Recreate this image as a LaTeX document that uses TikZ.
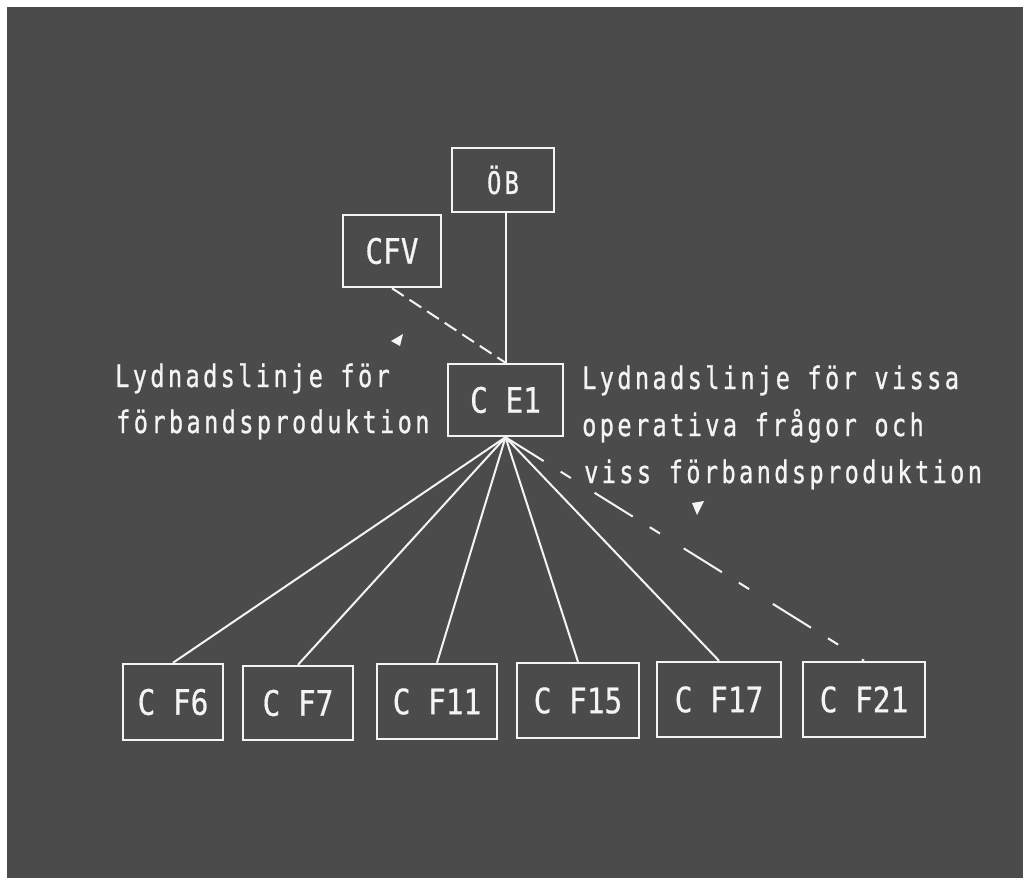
\documentclass[tikz,border=0pt]{standalone}
\usepackage{fontspec}
\newfontfamily\boxfont[FakeStretch=0.84,FakeBold=0.6]{DejaVu Sans Mono}
\newfontfamily\lblfont[FakeStretch=0.76,LetterSpace=11,FakeBold=0.8]{DejaVu Sans Mono}
\definecolor{bg}{HTML}{4B4B4B}
\definecolor{chalk}{HTML}{F4F4F4}
\begin{document}
\begin{tikzpicture}[x=1pt,y=-1pt,
  box/.style={draw=chalk, line width=2.5pt, inner sep=0pt, text=chalk,
    font=\boxfont\fontsize{35}{40}\selectfont},
  smallbox/.style={box, font=\lblfont\fontsize{31}{34}\selectfont},
  lbl/.style={text=chalk, inner sep=0pt, anchor=base west,
    font=\lblfont\fontsize{31}{34}\selectfont},
  link/.style={draw=chalk, line width=2pt},
  dlink/.style={link, dash pattern=on 14pt off 7pt},
  ddlink/.style={link, dash pattern=on 45pt off 20pt on 12pt off 28pt},
  marker/.style={fill=chalk}
]
\useasboundingbox (0,0) rectangle (1023,878);
\fill[white] (0,0) rectangle (1023,878);
\fill[bg] (7,7) rectangle (1023,878);

% boxes
\node[smallbox, minimum width=102pt, minimum height=64pt] (oeb) at (503,180) {ÖB};
\node[box, minimum width=98pt, minimum height=72pt] (cfv) at (392,251) {CFV};
\node[box, minimum width=115pt, minimum height=72pt] (ce1) at (505.5,400) {C E1};
\node[box, minimum width=100pt, minimum height=76pt] (cf6) at (173,702) {C F6};
\node[box, minimum width=110pt, minimum height=74pt] (cf7) at (298,703) {C F7};
\node[box, minimum width=120pt, minimum height=75pt] (cf11) at (437,701.5) {C F11};
\node[box, minimum width=122pt, minimum height=75pt] (cf15) at (578,700.5) {C F15};
\node[box, minimum width=124pt, minimum height=75pt] (cf17) at (719,699.5) {C F17};
\node[box, minimum width=122pt, minimum height=75pt] (cf21) at (864,699.5) {C F21};

% labels
\node[lbl] (l1) at (115,387) {Lydnadslinje för};
\node[lbl] (l2) at (116,433) {förbandsproduktion};
\node[lbl] (r1) at (582,389) {Lydnadslinje för vissa};
\node[lbl] (r2) at (582,436) {operativa frågor och};
\node[lbl] (r3) at (584,483) {viss förbandsproduktion};

% connectors
\draw[link] (ce1.north |- oeb.south) -- (ce1.north);
\draw[dlink] (cfv.south) -- (ce1.north);
\draw[link] (ce1.south) -- (cf6.north);
\draw[link] (ce1.south) -- (cf7.north);
\draw[link] (ce1.south) -- (cf11.north);
\draw[link] (ce1.south) -- (cf15.north);
\draw[link] (ce1.south) -- (cf17.north);
\draw[ddlink] (ce1.south) -- (cf21.north);

% pointer markers
\fill[marker] (403,334) -- (391,341) -- (400,346) -- cycle;
\fill[marker] (692,503) -- (704,501) -- (697,515) -- cycle;
\end{tikzpicture}
\end{document}
